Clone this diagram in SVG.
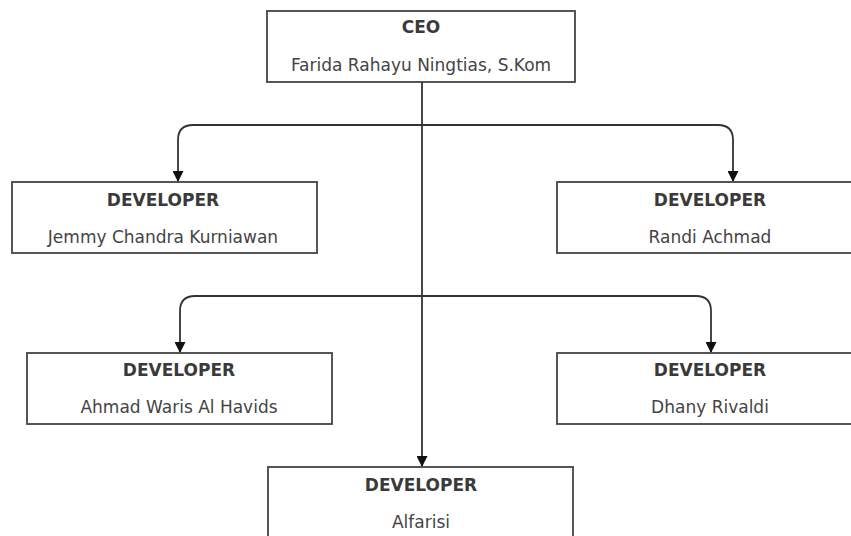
<svg xmlns="http://www.w3.org/2000/svg" width="851" height="536" viewBox="0 0 851 536">
<defs>
<style>
.box{fill:#fff;stroke:#444;stroke-width:1.8}
.t{font-family:"DejaVu Sans",Verdana,sans-serif;font-size:17px;font-weight:bold;fill:#3a3a3a;text-anchor:middle}
.n{font-family:"DejaVu Sans",Verdana,sans-serif;font-size:17px;fill:#444;text-anchor:middle}
.c{fill:none;stroke:#333;stroke-width:1.8}
</style>
<marker id="arr" markerWidth="11" markerHeight="11" refX="10" refY="5.5" orient="auto" markerUnits="userSpaceOnUse">
<path d="M0,0 L11,5.5 L0,11 Z" fill="#111"/>
</marker>
</defs>
<rect width="851" height="536" fill="#fff"/>
<g id="connectors">
<path class="c" d="M422,82 V466" marker-end="url(#arr)"/>
<path class="c" d="M422,125 H193 Q178,125 178,140 V181" marker-end="url(#arr)"/>
<path class="c" d="M422,125 H718 Q733,125 733,140 V181" marker-end="url(#arr)"/>
<path class="c" d="M422,296 H195 Q180,296 180,311 V352" marker-end="url(#arr)"/>
<path class="c" d="M422,296 H696 Q711,296 711,311 V352" marker-end="url(#arr)"/>
</g>
<g id="ceo">
<rect class="box" x="267" y="11" width="308" height="71"/>
<text class="t" x="421" y="33">CEO</text>
<text class="n" x="421" y="71">Farida Rahayu Ningtias, S.Kom</text>
</g>
<g id="dev-jemmy">
<rect class="box" x="12" y="182" width="305" height="71"/>
<text class="t" x="163" y="206">DEVELOPER</text>
<text class="n" x="163" y="243">Jemmy Chandra Kurniawan</text>
</g>
<g id="dev-randi">
<rect class="box" x="557" y="182" width="306" height="71"/>
<text class="t" x="710" y="206">DEVELOPER</text>
<text class="n" x="710" y="243">Randi Achmad</text>
</g>
<g id="dev-ahmad">
<rect class="box" x="27" y="353" width="305" height="71"/>
<text class="t" x="179" y="376">DEVELOPER</text>
<text class="n" x="179" y="413">Ahmad Waris Al Havids</text>
</g>
<g id="dev-dhany">
<rect class="box" x="557" y="353" width="306" height="71"/>
<text class="t" x="710" y="376">DEVELOPER</text>
<text class="n" x="710" y="413">Dhany Rivaldi</text>
</g>
<g id="dev-alfarisi">
<rect class="box" x="268" y="467" width="305" height="80"/>
<text class="t" x="421" y="491">DEVELOPER</text>
<text class="n" x="421" y="528">Alfarisi</text>
</g>
</svg>
